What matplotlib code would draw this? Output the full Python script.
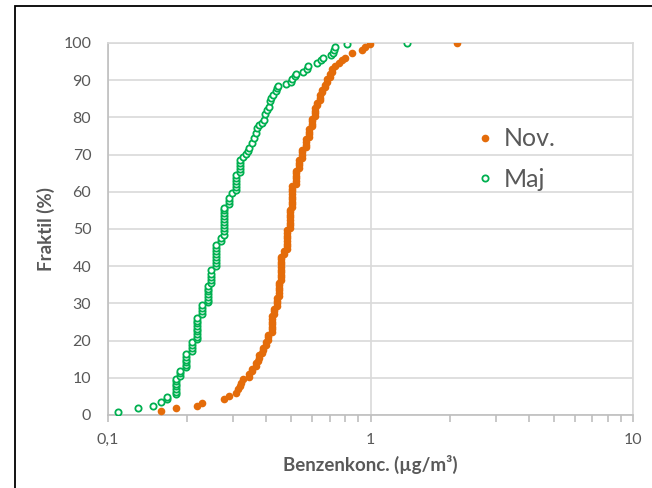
import matplotlib
matplotlib.use("Agg")
import matplotlib.pyplot as plt
from matplotlib.patches import Rectangle
from matplotlib.ticker import LogLocator, NullFormatter

plt.rcParams['font.family'] = ['Lato', 'DejaVu Sans']

# Maj - koncentration og fraktil
maj_x = [0.109, 0.130, 0.148, 0.159, 0.168, 0.168,
         0.181, 0.181, 0.181, 0.181, 0.181, 0.181, 0.181,
         0.188, 0.188, 0.188,
         0.199, 0.199, 0.199, 0.199, 0.199, 0.199,
         0.209, 0.209, 0.209, 0.209,
         0.219, 0.219, 0.219, 0.219, 0.219, 0.219, 0.219, 0.219, 0.219,
         0.229, 0.229, 0.229, 0.229,
         0.240, 0.240, 0.240, 0.240, 0.240, 0.240, 0.240,
         0.247, 0.247, 0.247, 0.247, 0.247,
         0.258, 0.258, 0.258, 0.258, 0.258, 0.258, 0.258, 0.258,
         0.270, 0.270,
         0.277, 0.277, 0.277, 0.277, 0.277, 0.277, 0.277, 0.277, 0.277, 0.277,
         0.290, 0.290, 0.290, 0.298,
         0.307, 0.307, 0.307, 0.307, 0.307, 0.307,
         0.318, 0.318, 0.318, 0.318, 0.318,
         0.327, 0.335, 0.340, 0.345, 0.353,
         0.361, 0.366, 0.371, 0.377, 0.385,
         0.394, 0.396, 0.405, 0.411, 0.414, 0.417,
         0.425, 0.435, 0.442, 0.445, 0.475,
         0.496, 0.501, 0.516, 0.521,
         0.552, 0.573, 0.579, 0.626, 0.650, 0.660,
         0.707, 0.720, 0.729, 0.733, 0.814, 1.38]
maj_y = [0.9, 1.8, 2.5, 3.4, 4.3, 4.9,
         5.6, 6.3, 7.0, 7.7, 8.4, 9.1, 9.8,
         10.5, 11.2, 11.9,
         12.8, 13.5, 14.2, 14.9, 15.6, 16.4,
         17.2, 18.0, 18.8, 19.5,
         20.4, 21.1, 21.8, 22.5, 23.2, 23.9, 24.6, 25.4, 26.2,
         27.1, 27.9, 28.8, 29.6,
         30.3, 31.0, 31.8, 32.5, 33.2, 34.0, 34.7,
         35.6, 36.4, 37.2, 38.0, 38.9,
         40.0, 40.8, 41.6, 42.4, 43.2, 44.0, 44.9, 45.8,
         46.7, 47.6,
         48.5, 49.4, 50.2, 51.0, 51.8, 52.6, 53.4, 54.2, 55.0, 55.7,
         56.6, 57.5, 58.4, 59.7,
         60.6, 61.4, 62.2, 63.0, 63.8, 64.6,
         65.4, 66.2, 67.0, 67.8, 68.6,
         69.3, 70.2, 70.9, 71.8, 73.2,
         74.4, 75.7, 77.1, 78.0, 78.6,
         79.4, 80.8, 82.1, 82.9, 84.3, 85.2,
         86.1, 87.0, 87.8, 88.5, 88.9,
         89.6, 90.3, 91.0, 91.7,
         92.3, 92.9, 93.8, 94.6, 95.4, 95.9,
         96.8, 97.4, 98.1, 98.8, 99.6, 100.0]

# Nov - koncentration og fraktil
nov_x = [0.159, 0.181, 0.219, 0.229, 0.276, 0.288,
         0.307, 0.312, 0.318, 0.322, 0.327,
         0.345, 0.345, 0.355, 0.355, 0.366, 0.366, 0.372, 0.377, 0.377,
         0.385, 0.390, 0.390, 0.399, 0.399, 0.408, 0.408, 0.408,
         0.420, 0.420, 0.420, 0.420, 0.420, 0.420, 0.420,
         0.429, 0.429, 0.429, 0.440, 0.440, 0.440, 0.440,
         0.448, 0.448, 0.448, 0.448, 0.448, 0.448,
         0.458, 0.458, 0.458, 0.458, 0.458, 0.458, 0.458, 0.458, 0.458, 0.458,
         0.470, 0.470,
         0.482, 0.482, 0.482, 0.482, 0.482, 0.482, 0.482, 0.482,
         0.492, 0.492, 0.492, 0.492, 0.492, 0.492, 0.492, 0.492,
         0.504, 0.504, 0.504, 0.504, 0.504, 0.504, 0.504, 0.504, 0.504,
         0.519, 0.519, 0.519, 0.519, 0.519, 0.519,
         0.533, 0.533, 0.533, 0.533,
         0.549, 0.549, 0.549, 0.549,
         0.566, 0.566, 0.566, 0.566,
         0.582, 0.582, 0.582, 0.582,
         0.600, 0.600, 0.600, 0.600,
         0.613, 0.613, 0.613, 0.613,
         0.626, 0.626, 0.640, 0.640, 0.640,
         0.654, 0.654, 0.668, 0.668, 0.683, 0.683,
         0.700, 0.700, 0.714, 0.714, 0.735, 0.757, 0.780, 0.802,
         0.849, 0.927, 0.955, 0.997, 2.14]
nov_y = [1.2, 1.8, 2.5, 3.3, 4.2, 5.1,
         6.0, 6.9, 7.8, 8.7, 9.6,
         10.3, 11.0, 11.7, 12.4, 13.2, 13.9, 14.6, 15.3, 16.0,
         16.7, 17.4, 18.1, 18.8, 19.5, 20.2, 20.9, 21.6,
         22.3, 23.0, 23.7, 24.4, 25.1, 25.8, 26.5,
         27.2, 27.9, 28.6, 29.3, 30.0, 30.7, 31.4,
         32.1, 32.8, 33.5, 34.2, 34.9, 35.6,
         36.3, 37.0, 37.7, 38.4, 39.1, 39.8, 40.5, 41.2, 41.9, 42.6,
         43.3, 44.0,
         44.7, 45.4, 46.1, 46.8, 47.5, 48.2, 48.9, 49.6,
         50.3, 51.0, 51.7, 52.4, 53.1, 53.8, 54.5, 55.2,
         55.9, 56.6, 57.3, 58.0, 58.7, 59.4, 60.1, 60.8, 61.5,
         62.2, 62.9, 63.6, 64.3, 65.0, 65.7,
         66.4, 67.1, 67.8, 68.5,
         69.2, 69.9, 70.6, 71.3,
         72.0, 72.7, 73.4, 74.1,
         74.8, 75.5, 76.2, 76.9,
         77.6, 78.3, 79.0, 79.7,
         80.4, 81.1, 81.8, 82.5,
         83.2, 83.9, 84.6, 85.3, 86.0,
         86.7, 87.4, 88.1, 88.8, 89.5, 90.2,
         90.9, 91.6, 92.3, 93.0, 93.7, 94.6, 95.3, 95.9,
         97.3, 98.1, 99.0, 99.7, 100.0]

grid_c = '#d9d9d9'
txt_c = '#595959'

fig = plt.figure(figsize=(6.52, 4.88), dpi=100)
ax = fig.add_axes([108/652, 1-415/488, 525/652, 372/488])

# ramme om hele diagrammet
fig.patches.append(Rectangle((15/652, -0.1), 1.2, 1 - 6/488 + 0.1, transform=fig.transFigure,
                             fill=False, edgecolor='black', linewidth=1.3, zorder=10))

ax.plot(nov_x, nov_y, 'o', color='#E46C0A', markersize=5.5, markeredgewidth=0, label='Nov.', zorder=3)
ax.plot(maj_x, maj_y, 'o', markerfacecolor='white', markeredgecolor='#00B050', markersize=4.5,
        markeredgewidth=1.3, label='Maj', zorder=4)

ax.set_xscale('log')
ax.set_xlim(0.1, 10)
ax.set_ylim(0, 100)
ax.set_xticks([0.1, 1, 10])
ax.set_xticklabels(['0,1', '1', '10'])
ax.xaxis.set_minor_locator(LogLocator(base=10, subs=range(2, 10)))
ax.xaxis.set_minor_formatter(NullFormatter())
ax.set_yticks(range(0, 101, 10))

ax.grid(True, which='major', color=grid_c, linewidth=1.2)
ax.set_axisbelow(True)
for s in ['top', 'right']:
    ax.spines[s].set_color(grid_c)
    ax.spines[s].set_linewidth(1.2)
for s in ['left', 'bottom']:
    ax.spines[s].set_color('#bfbfbf')
    ax.spines[s].set_linewidth(1.2)

ax.tick_params(axis='y', which='both', length=0, pad=12, labelsize=11.5, labelcolor=txt_c)
ax.tick_params(axis='x', which='major', length=5, color='#bfbfbf', width=1.2, pad=8,
               labelsize=11.5, labelcolor=txt_c)
ax.tick_params(axis='x', which='minor', length=5, color='#bfbfbf', width=1.2)

ax.set_xlabel('Benzenkonc. (µg/m³)', fontsize=13.5, fontweight='bold', color=txt_c, labelpad=6)
ax.set_ylabel('Fraktil (%)', fontsize=13.5, fontweight='bold', color=txt_c, labelpad=6)

ax.legend(loc='center left', bbox_to_anchor=(0.66, 0.688), frameon=False, fontsize=18,
          labelcolor=txt_c, handlelength=0.6, handletextpad=0.45, labelspacing=0.7,
          borderpad=0.4)

plt.savefig('out.png', dpi=100)
